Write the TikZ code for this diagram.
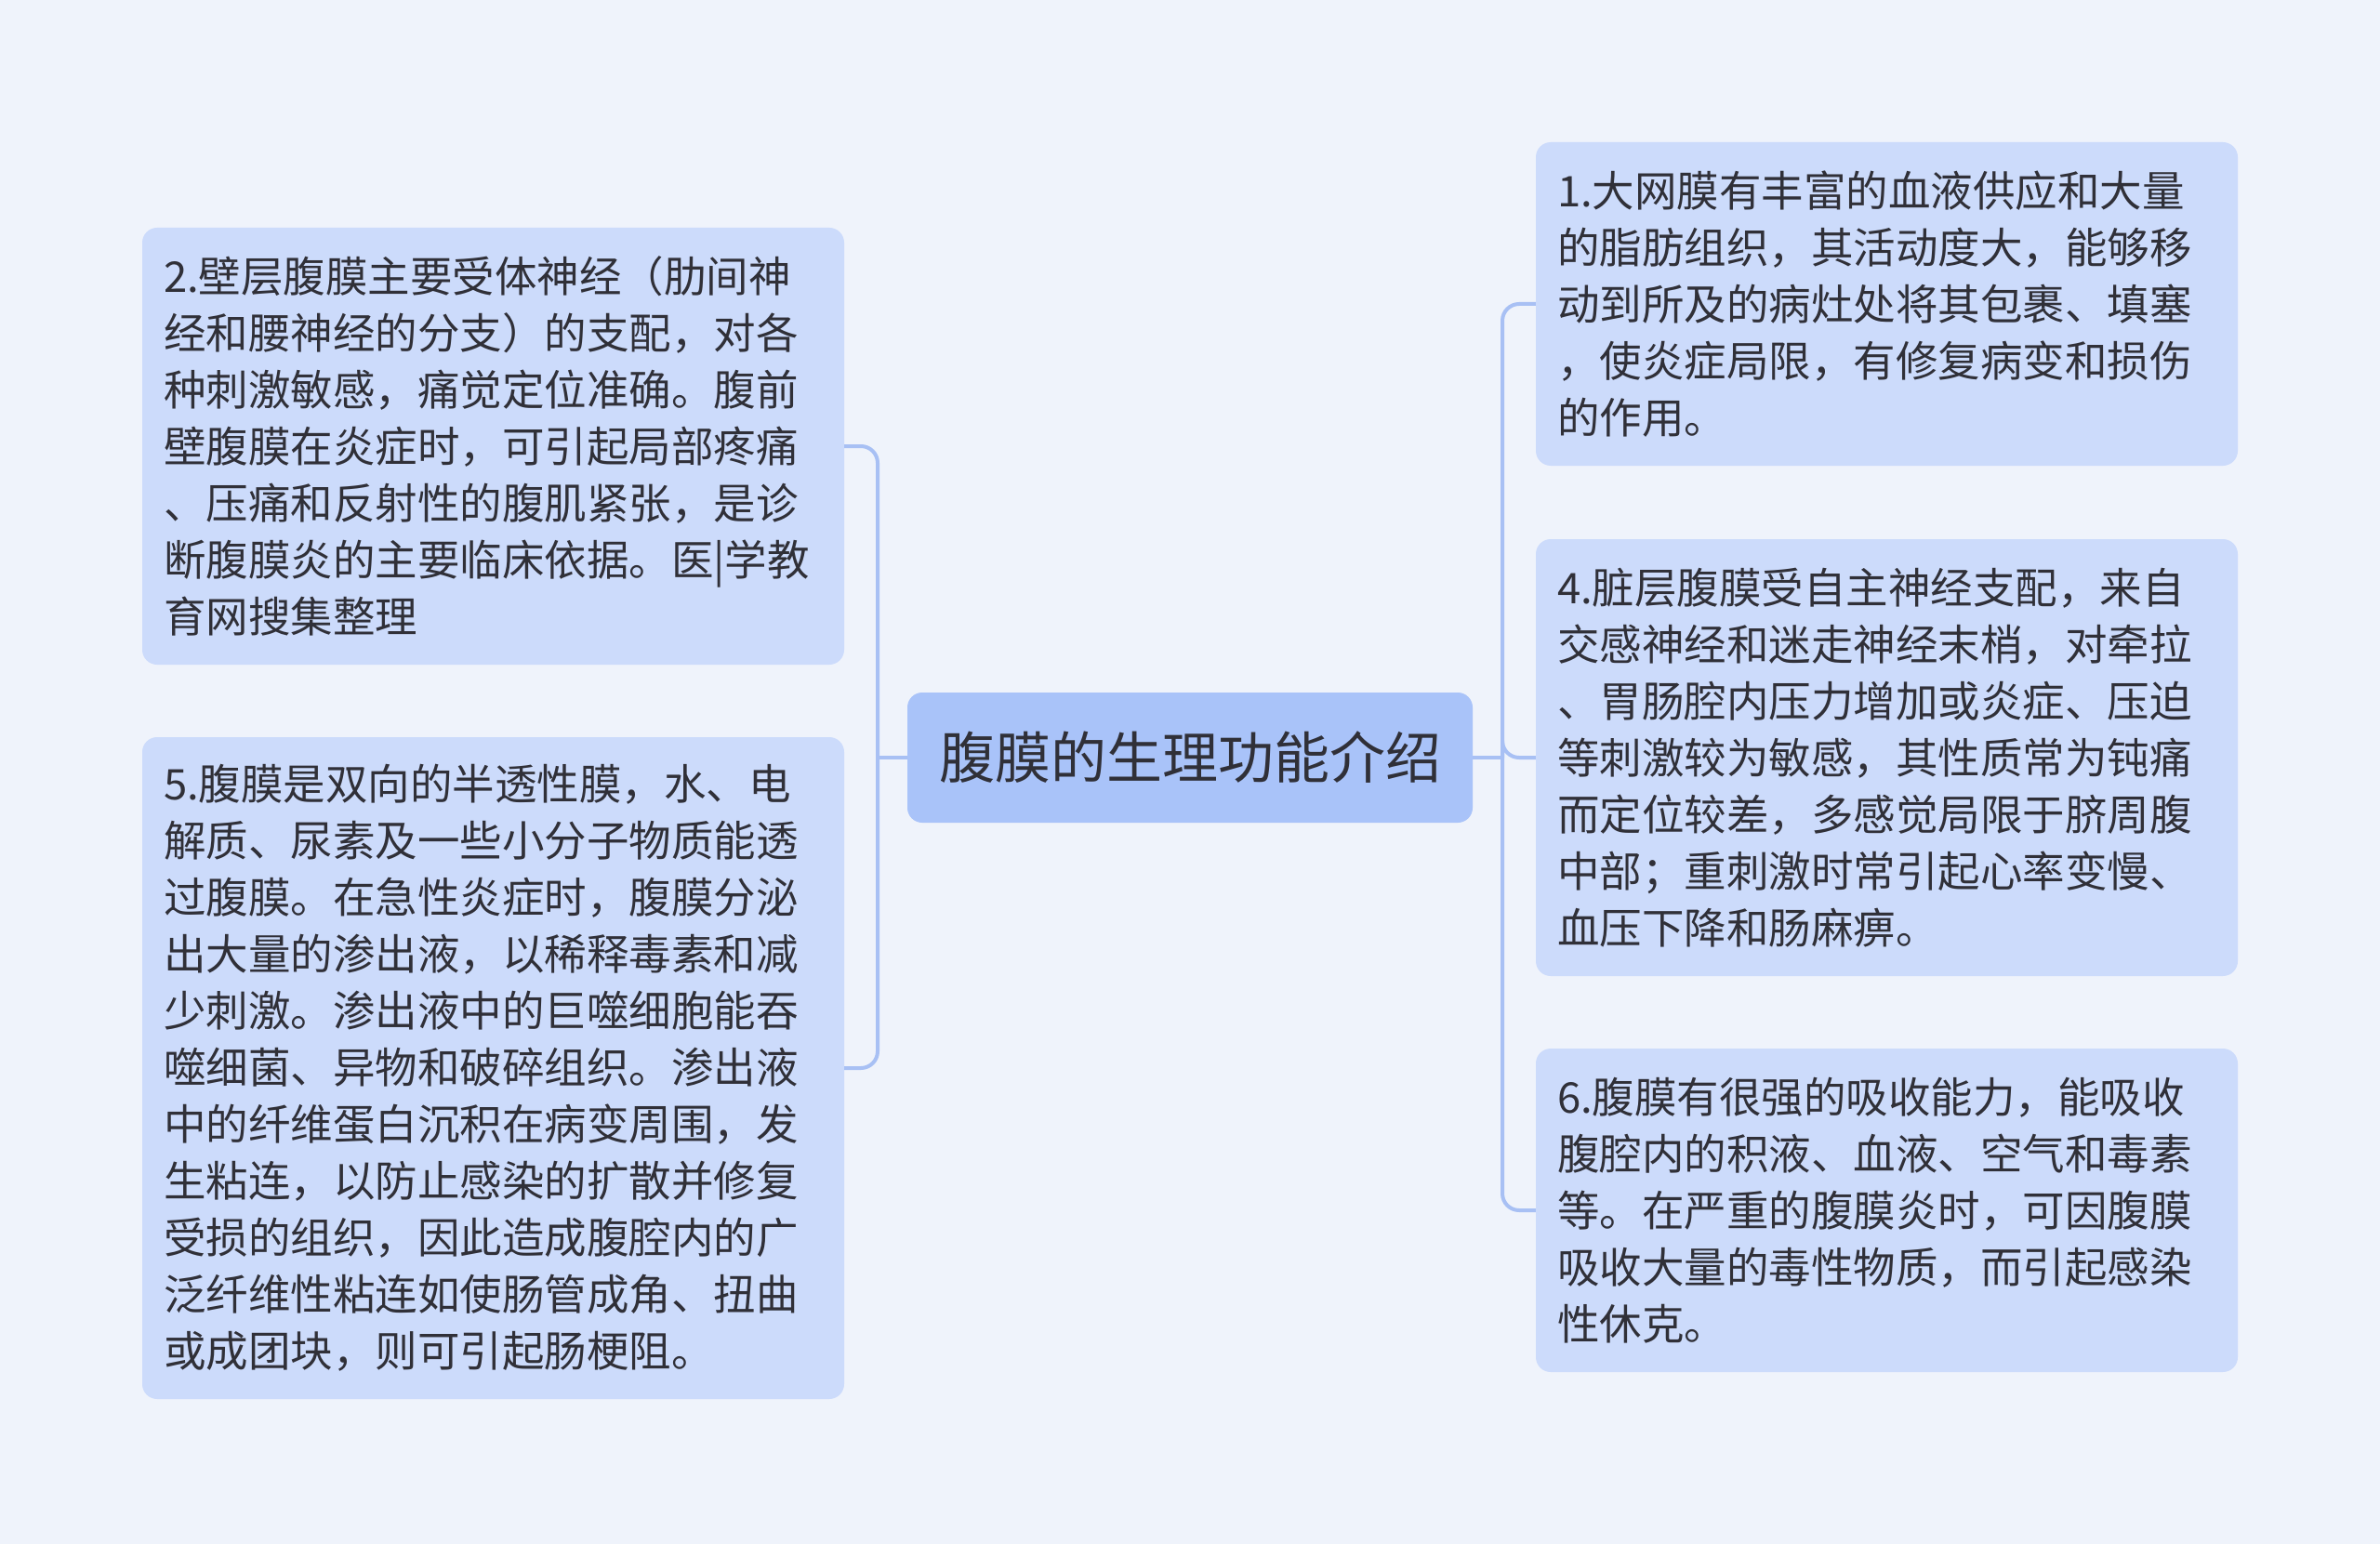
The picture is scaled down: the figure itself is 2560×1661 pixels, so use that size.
\documentclass[tikz,border=0pt]{standalone}
\usepackage{fontspec}
\newfontfamily\cjk{Noto Sans CJK SC}
\definecolor{bgc}{HTML}{EFF3FB}
\definecolor{rootfill}{HTML}{A9C3F9}
\definecolor{leaffill}{HTML}{CCDBFB}
\definecolor{linec}{HTML}{A8C0F4}
\definecolor{txt}{HTML}{303038}
\tikzset{
  leaf/.style={rectangle, rounded corners=16pt, fill=leaffill, text=txt,
    text width=709pt, minimum width=755pt, inner xsep=23pt, inner ysep=0pt,
    align=left, font=\cjk\fontsize{45.5}{61}\selectfont},
  rootbox/.style={rectangle, rounded corners=16pt, fill=rootfill, text=txt,
    minimum width=608pt, minimum height=140pt, inner sep=0pt,
    font=\cjk\fontsize{60}{72}\selectfont},
  conn/.style={draw=linec, line width=4pt},
  elbowline/.style={conn, rounded corners=18pt}
}
\begin{document}
\begin{tikzpicture}[x=1pt,y=-1pt]
\fill[bgc] (0,0) rectangle (2560,1661);
\useasboundingbox (0,0) rectangle (2560,1661);

\node[rootbox] (c) at (1280,815) {腹膜的生理功能介绍};

\node[leaf, minimum height=470pt] (n2) at (530.5,480) {2.壁层腹膜主要受体神经（肋间神\\经和腰神经的分支）的支配，对各\\种刺激敏感，痛觉定位准确。腹前\\壁腹膜在炎症时，可引起局部疼痛\\、压痛和反射性的腹肌紧张，是诊\\断腹膜炎的主要临床依据。医|学教\\育网搜集整理};

\node[leaf, minimum height=712pt] (n5) at (530.5,1149) {5.腹膜是双向的半透性膜，水、电\\解质、尿素及一些小分子物质能透\\过腹膜。在急性炎症时，腹膜分泌\\出大量的渗出液，以稀释毒素和减\\少刺激。渗出液中的巨噬细胞能吞\\噬细菌、异物和破碎组织。渗出液\\中的纤维蛋白沉积在病变周围，发\\生粘连，以防止感染的扩散并修复\\受损的组织，因此造成腹腔内的广\\泛纤维性粘连如使肠管成角、扭曲\\或成团块，则可引起肠梗阻。};

\node[leaf, minimum height=348pt] (n1) at (2029.5,327) {1.大网膜有丰富的血液供应和大量\\的脂肪组织，其活动度大，能够移\\动到所及的病灶处将其包裹、填塞\\，使炎症局限，有修复病变和损伤\\的作用。};

\node[leaf, minimum height=470pt] (n4) at (2029.5,815) {4.脏层腹膜受自主神经支配，来自\\交感神经和迷走神经末梢，对牵拉\\、胃肠腔内压力增加或炎症、压迫\\等刺激较为敏感，其性质常为钝痛\\而定位较差，多感觉局限于脐周腹\\中部；重刺激时常引起心率变慢、\\血压下降和肠麻痹。};

\node[leaf, minimum height=348pt] (n6) at (2029.5,1302) {6.腹膜有很强的吸收能力，能吸收\\腹腔内的积液、血液、空气和毒素\\等。在严重的腹膜炎时，可因腹膜\\吸收大量的毒性物质，而引起感染\\性休克。};

\coordinate (lj) at (944,815);
\coordinate (rj) at (1616,815);
\draw[conn] (c.west) -- (lj);
\draw[conn] (c.east) -- (rj);
\draw[elbowline] (lj) |- (n2.east);
\draw[elbowline] (lj) |- (n5.east);
\draw[elbowline] (rj) |- (n1.west);
\draw[elbowline] (rj) |- (n4.west);
\draw[elbowline] (rj) |- (n6.west);
\end{tikzpicture}
\end{document}
